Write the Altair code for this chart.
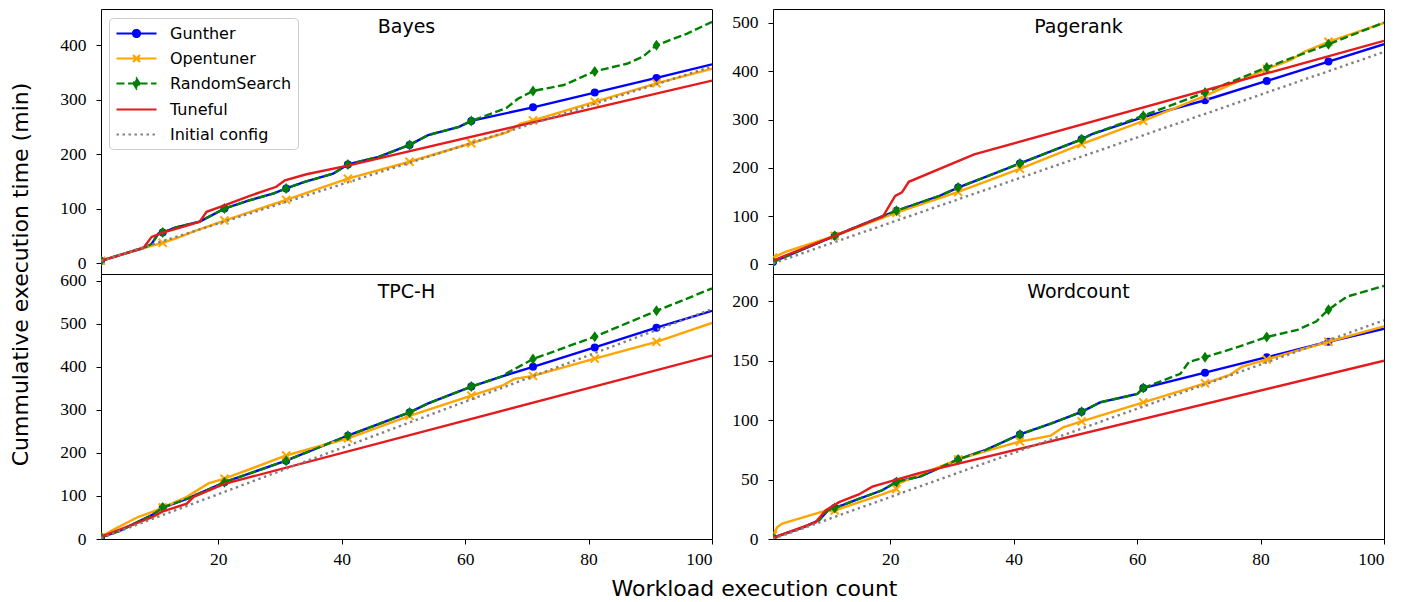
import altair as alt
import pandas as pd

SERIES = ["Gunther", "Opentuner", "RandomSearch", "Tuneful", "Initial config"]
COLORS = ["#0000ff", "#ffa500", "#008000", "#e41a1c", "#808080"]
PANELS = ["Bayes", "Pagerank", "TPC-H", "Wordcount"]
MARK_X = [1, 11, 21, 31, 41, 51, 61, 71, 81, 91]
X_TICKS = [20, 40, 60, 80, 100]
Y_TICKS_BAYES = [0, 100, 200, 300, 400]
Y_TICKS_PAGERANK = [0, 100, 200, 300, 400, 500]
Y_TICKS_TPCH = [0, 100, 200, 300, 400, 500, 600]
Y_TICKS_WORDCOUNT = [0, 50, 100, 150, 200]
Y_DOMAIN_BAYES = [-20.2, 466.6]
Y_DOMAIN_PAGERANK = [-20, 529]
Y_DOMAIN_TPCH = [0, 615.6]
Y_DOMAIN_WORDCOUNT = [0, 223]

# ---- Bayes ----
BAYES_GUNTHER = [(1, 4), (8, 28), (9.2, 35), (10.3, 54), (11, 56), (13, 65), (17, 76), (21, 100), (25, 115),
                 (29, 128), (31, 137), (34, 149), (38.6, 164), (41, 181), (46, 195), (51, 217), (54, 235),
                 (59, 250), (61, 261), (71, 286), (81, 313), (91, 340), (100, 365)]
BAYES_OPENTUNER = [(1, 4), (8, 28), (11, 37), (13.8, 48), (16.5, 60), (21, 78), (31, 116), (41, 155), (51, 186),
                   (61, 220), (67, 241), (69, 256), (71, 262), (81, 296), (91, 330), (100, 357)]
BAYES_RANDOM = [(1, 4), (8, 28), (9.2, 35), (10.3, 54), (11, 56), (13, 65), (17, 76), (21, 100), (25, 115),
                (29, 128), (31, 137), (34, 149), (38.6, 164), (41, 181), (46, 195), (51, 217), (54, 235),
                (59, 250), (61, 261), (66.7, 285), (68.6, 302), (71, 316), (76, 327), (81, 352), (86.2, 366),
                (88.8, 379), (91, 400), (95.9, 421), (100, 443)]
BAYES_TUNEFUL = [(1, 4), (7.9, 28), (9.2, 48), (11, 56), (14.4, 67), (17, 76), (18.1, 94), (21, 106), (25, 123),
                 (29.4, 140), (30.8, 152), (34.3, 163), (41, 179), (100, 335)]
BAYES_INITIAL = [(1, 4), (100, 361)]

# ---- Pagerank ----
PAGERANK_GUNTHER = [(1, 5), (11, 59), (18.8, 100), (21, 111), (28, 142), (31, 159), (41, 209), (51, 259),
                    (52.7, 270), (61, 305), (71, 340), (81, 380), (91, 420), (100, 456)]
PAGERANK_OPENTUNER = [(1, 14), (3, 26), (11, 59), (21, 107), (31, 150), (41, 198), (51, 249), (61, 297),
                      (71, 349), (81, 405), (85, 424), (87, 440), (91, 461), (100, 500)]
PAGERANK_RANDOM = [(1, 5), (11, 59), (18.8, 100), (21, 111), (28, 142), (31, 159), (41, 209), (51, 259),
                   (52.7, 270), (61, 308), (71, 356), (81, 408), (91, 456), (100, 501)]
PAGERANK_TUNEFUL = [(1, 8), (11, 59), (18.8, 99), (20.8, 142), (21.9, 149), (23, 171), (33.6, 228), (100, 463)]
PAGERANK_INITIAL = [(1, 2), (100, 440)]

# ---- TPC-H ----
TPCH_GUNTHER = [(1, 4), (4, 19), (9.3, 56), (11, 73), (15, 94), (20, 125), (21, 132), (31, 182), (41, 240),
                (51, 294), (54, 315), (61, 354), (66, 378), (71, 400), (81, 445), (91, 491), (100, 530)]
TPCH_OPENTUNER = [(1, 4), (2.8, 20), (7, 51), (9.3, 63), (11, 73), (14.9, 98), (18.4, 129), (21, 140), (31, 194),
                  (41, 234), (51, 286), (61, 333), (66, 356), (68, 372), (71, 379), (81, 419), (91, 458),
                  (100, 502)]
TPCH_RANDOM = [(1, 4), (4, 19), (9.3, 56), (11, 73), (15, 94), (20, 125), (21, 132), (31, 182), (41, 240),
               (51, 294), (54, 315), (61, 354), (66, 378), (67, 387), (71, 418), (81, 470), (91, 530), (100, 582)]
TPCH_TUNEFUL = [(1, 5), (9.3, 51), (11, 64), (14.9, 82), (16, 98), (21, 128), (100, 426)]
TPCH_INITIAL = [(1, 2), (100, 534)]

# ---- Wordcount ----
WORDCOUNT_GUNTHER = [(1, 1), (6, 10), (8.5, 16), (9.9, 24), (11, 26), (15, 34), (18.7, 41), (21, 48), (25, 53),
                     (31, 67), (35.5, 75), (41, 88), (46, 97), (51, 107), (54, 115), (60, 122), (61, 127),
                     (71, 140), (81, 153), (91, 166), (100, 177)]
WORDCOUNT_OPENTUNER = [(1, 3), (1.7, 10), (2.5, 13), (9, 23), (11, 24), (18.7, 37.5), (21, 42), (21.5, 47),
                       (25.2, 55), (31, 67), (35.5, 74), (41, 82), (46, 87), (48, 94), (51, 99), (61, 115),
                       (71, 131), (75, 138), (77, 145), (81, 151), (91, 166), (100, 179)]
WORDCOUNT_RANDOM = [(1, 1), (6, 10), (8.5, 16), (9.9, 24), (11, 26), (15, 34), (18.7, 41), (21, 48), (25, 53),
                    (31, 67), (35.5, 75), (41, 88), (46, 97), (51, 107), (54, 115), (60, 122), (61, 127),
                    (67, 139), (68.4, 149), (71, 153), (76, 161), (81, 170), (86, 176), (89, 183), (91, 193),
                    (94, 204), (100, 213)]
WORDCOUNT_TUNEFUL = [(1, 1), (7.9, 14), (9.5, 24), (11.7, 31), (14.9, 37.5), (17.1, 44), (21, 50),
                     (24.8, 55.6), (100, 150)]
WORDCOUNT_INITIAL = [(1, 0), (100, 184)]

PANEL_DATA = {
    "Bayes": [BAYES_GUNTHER, BAYES_OPENTUNER, BAYES_RANDOM, BAYES_TUNEFUL, BAYES_INITIAL],
    "Pagerank": [PAGERANK_GUNTHER, PAGERANK_OPENTUNER, PAGERANK_RANDOM, PAGERANK_TUNEFUL, PAGERANK_INITIAL],
    "TPC-H": [TPCH_GUNTHER, TPCH_OPENTUNER, TPCH_RANDOM, TPCH_TUNEFUL, TPCH_INITIAL],
    "Wordcount": [WORDCOUNT_GUNTHER, WORDCOUNT_OPENTUNER, WORDCOUNT_RANDOM, WORDCOUNT_TUNEFUL, WORDCOUNT_INITIAL],
}
PANEL_YTICKS = {"Bayes": Y_TICKS_BAYES, "Pagerank": Y_TICKS_PAGERANK, "TPC-H": Y_TICKS_TPCH,
                "Wordcount": Y_TICKS_WORDCOUNT}
PANEL_YDOMAIN = {"Bayes": Y_DOMAIN_BAYES, "Pagerank": Y_DOMAIN_PAGERANK, "TPC-H": Y_DOMAIN_TPCH,
                 "Wordcount": Y_DOMAIN_WORDCOUNT}

W, H = 611, 265
LINE_W = 2.4
DASHES = {"RandomSearch": [8, 3.5], "Initial config": [2.4, 3.6]}
MARKERS = {
    "Gunther": dict(shape="circle", size=64, filled=True, strokeWidth=0),
    "Opentuner": dict(shape="M-1,-1L1,1M-1,1L1,-1", size=64, filled=False, strokeWidth=2),
    "RandomSearch": dict(shape="M0,-1L0.7,0L0,1L-0.7,0Z", size=121, filled=True, strokeWidth=0),
}

# legend symbols: a line sample with the series' marker in the middle
LEGEND_SHAPES = [
    "M-1,0L4,0M1.5,-0.44A0.44,0.44,0,1,1,1.5,0.44A0.44,0.44,0,1,1,1.5,-0.44Z",
    "M-1,0L4,0M1.06,-0.44L1.94,0.44M1.06,0.44L1.94,-0.44",
    "M-1,0L4,0M1.5,-0.62L1.87,0L1.5,0.62L1.13,0Z",
    "M-1,0L4,0",
    "M-1,0L4,0",
]
LEGEND_FILLS = ["#0000ff", "transparent", "#008000", "transparent", "transparent"]
LEGEND_DASHES = [[1, 0], [1, 0], [8, 3.5], [1, 0], [2.4, 3.6]]

LEGEND = alt.Legend(
    title=None, orient="none", legendX=8, legendY=9, direction="vertical",
    fillColor="rgba(255,255,255,0.8)", strokeColor="#cccccc", cornerRadius=4, padding=6,
    labelFont="DejaVu Sans", labelFontSize=16, labelColor="black", labelOffset=36, labelLimit=300,
    rowPadding=7, symbolSize=256, symbolStrokeWidth=2.2, symbolOffset=0, symbolOpacity=1,
)


def make_panel(name, top_row, left_col, with_legend):
    if top_row:
        x_axis = None
    else:
        extra = {}
        if left_col:
            extra = {"titleX": 653, "titleY": 56, "titleAlign": "center",
                     "titleBaseline": "alphabetic", "titleAngle": 0}
        x_axis = alt.Axis(values=X_TICKS, tickSize=5, labelPadding=6, domain=False, grid=False,
                          title=("Workload execution count" if left_col else None), **extra)
    y_extra = {}
    if top_row and left_col:
        y_extra = {"titleX": -81, "titleY": 265, "titleAlign": "center", "titleBaseline": "middle",
                   "titleAngle": 270}
    y_axis = alt.Axis(values=PANEL_YTICKS[name], tickSize=5, labelPadding=10, domain=False, grid=False,
                      title=("Cummulative execution time (min)" if (top_row and left_col) else None), **y_extra)
    xenc = alt.X("x:Q", scale=alt.Scale(domain=[1, 100], nice=False, zero=False), axis=x_axis)
    yenc = alt.Y("y:Q", scale=alt.Scale(domain=PANEL_YDOMAIN[name], nice=False, zero=False), axis=y_axis)
    layers = []
    for i, (s, pts) in enumerate(zip(SERIES, PANEL_DATA[name])):
        df = pd.DataFrame({"x": [p[0] for p in pts], "y": [p[1] for p in pts], "series": s})
        mk = dict(strokeWidth=LINE_W, clip=True, color=COLORS[i])
        if s in DASHES:
            mk["strokeDash"] = DASHES[s]
        layers.append(alt.Chart(df).mark_line(**mk).encode(x=xenc, y=yenc))
        if s in MARKERS:
            dfm = df[df["x"].isin(MARK_X)]
            m = MARKERS[s]
            pk = dict(shape=m["shape"], size=m["size"], filled=m["filled"], opacity=1, clip=True,
                      color=COLORS[i], strokeWidth=m["strokeWidth"])
            layers.append(alt.Chart(dfm).mark_point(**pk).encode(x=xenc, y=yenc))
    if with_legend:
        empty = pd.DataFrame({"x": pd.Series([], dtype=float), "y": pd.Series([], dtype=float),
                              "series": pd.Series([], dtype=str)})
        layers.append(alt.Chart(empty).mark_point(filled=True, size=256, strokeWidth=2.2, opacity=1).encode(
            x=xenc, y=yenc,
            stroke=alt.Stroke("series:N", scale=alt.Scale(domain=SERIES, range=COLORS), legend=LEGEND),
            fill=alt.Fill("series:N", scale=alt.Scale(domain=SERIES, range=LEGEND_FILLS), legend=LEGEND),
            shape=alt.Shape("series:N", scale=alt.Scale(domain=SERIES, range=LEGEND_SHAPES), legend=LEGEND),
            strokeDash=alt.StrokeDash("series:N", scale=alt.Scale(domain=SERIES, range=LEGEND_DASHES),
                                      legend=LEGEND),
        ))
    title_df = pd.DataFrame({"t": [name]})
    layers.append(alt.Chart(title_df).mark_text(font="DejaVu Sans", fontSize=19, color="black",
                                                 baseline="alphabetic", align="center").encode(
        text="t:N", x=alt.value(W / 2), y=alt.value(24)))
    return alt.layer(*layers).properties(width=W, height=H)


tl = make_panel("Bayes", True, True, True)
tr = make_panel("Pagerank", True, False, False)
bl = make_panel("TPC-H", False, True, False)
br = make_panel("Wordcount", False, False, False)

chart = alt.concat(tl, tr, bl, br, columns=2, spacing={"row": 0, "column": 61}, bounds="flush").resolve_scale(
    x="independent", y="independent", stroke="independent", fill="independent", shape="independent",
    strokeDash="independent"
).resolve_legend(
    stroke="independent", fill="independent", shape="independent", strokeDash="independent"
).properties(padding=0).configure_view(stroke="black", strokeWidth=1).configure_axis(
    labelFont="Liberation Serif", labelFontSize=17.5, labelColor="black", tickColor="black", tickWidth=1,
    titleFont="DejaVu Sans", titleFontSize=22, titleColor="black", titleFontWeight="normal"
)

chart.save("out.html", embed_options={"renderer": "svg", "actions": False})
